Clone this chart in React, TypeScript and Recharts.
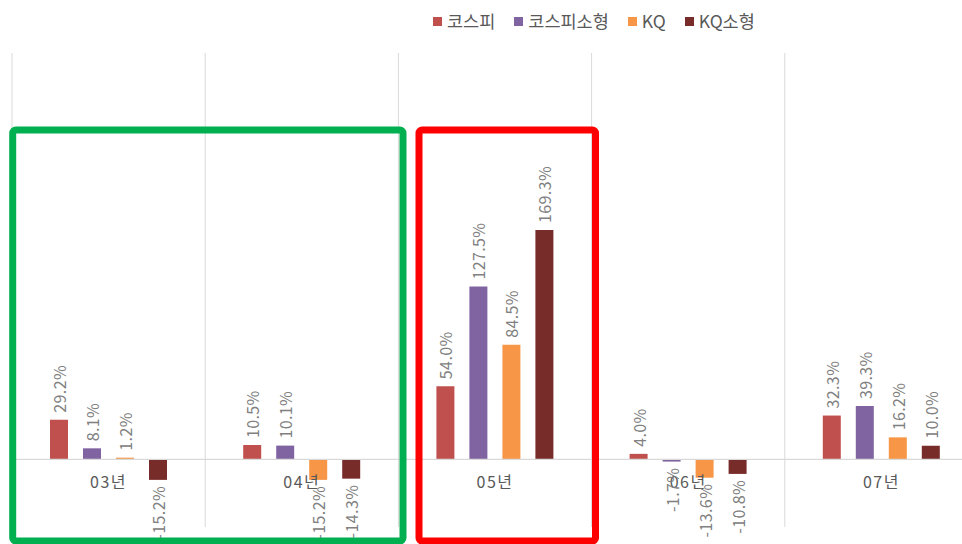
import React from 'react';
import {
  BarChart,
  Bar,
  XAxis,
  YAxis,
  CartesianGrid,
  ReferenceLine,
  ReferenceDot,
  LabelList,
} from 'recharts';

const years = ['03년', '04년', '05년', '06년', '07년'];
const kospi = [29.2, 10.5, 54.0, 4.0, 32.3];
const kospiSmall = [8.1, 10.1, 127.5, -1.7, 39.3];
const kq = [1.2, -15.2, 84.5, -13.6, 16.2];
const kqSmall = [-15.2, -14.3, 169.3, -10.8, 10.0];

const seriesNames = ['코스피', '코스피소형', 'KQ', 'KQ소형'];
const seriesKeys = ['kospi', 'kospiSmall', 'kq', 'kqSmall'];
const seriesColors = ['#C0504D', '#8064A2', '#F79646', '#772C2A'];

const data = years.map((year, i) => ({
  year,
  kospi: kospi[i],
  kospiSmall: kospiSmall[i],
  kq: kq[i],
  kqSmall: kqSmall[i],
}));

const FONT = '"Noto Sans CJK KR", "Noto Sans", sans-serif';

const renderValueLabel = (props: any) => {
  const { x, y, width, height, value } = props;
  if (value === undefined || value === null) return null;
  const cx = Number(x) + Number(width) / 2;
  const top = Math.min(Number(y), Number(y) + Number(height));
  const bottom = Math.max(Number(y), Number(y) + Number(height));
  const positive = Number(value) >= 0;
  const ay = positive ? top - 7 : bottom + 6;
  return (
    <text
      x={cx}
      y={ay}
      transform={`rotate(-90, ${cx}, ${ay})`}
      textAnchor={positive ? 'start' : 'end'}
      dominantBaseline="central"
      fill="#808080"
      fontSize={16}
      letterSpacing={0.4}
      fontFamily={FONT}
    >
      {Number(value).toFixed(1) + '%'}
    </text>
  );
};

const renderYearLabel = (year: string) => (props: any) => {
  const vb = props.viewBox || {};
  const cx = Number(vb.x) + Number(vb.width || 0) / 2;
  const cy = Number(vb.y) + Number(vb.height || 0) / 2;
  return (
    <text
      x={cx}
      y={cy + 22}
      textAnchor="middle"
      dominantBaseline="central"
      fill="#595959"
      fontSize={16}
      letterSpacing={1.5}
      fontFamily={FONT}
    >
      {year}
    </text>
  );
};

export default function App() {
  return (
    <div
      style={{
        position: 'fixed',
        top: 0,
        left: 0,
        width: 962,
        height: 544,
        overflow: 'hidden',
        background: '#ffffff',
      }}
    >
      <BarChart
        width={990}
        height={544}
        data={data}
        margin={{ top: 53, right: 12, bottom: 17, left: 12 }}
        barSize={18}
        barGap={15}
      >
        <CartesianGrid
          horizontal={false}
          vertical={true}
          stroke="#D9D9D9"
          verticalCoordinatesGenerator={({ offset }: any) =>
            [0, 1, 2, 3, 4, 5].map((i) => offset.left + (i * offset.width) / years.length)
          }
        />
        <XAxis dataKey="year" hide />
        <YAxis hide domain={[-50, 300]} type="number" />
        <ReferenceLine y={0} stroke="#D9D9D9" strokeWidth={1.3} />
        {seriesKeys.map((k, i) => (
          <Bar key={k} dataKey={k} name={seriesNames[i]} fill={seriesColors[i]} isAnimationActive={false}>
            <LabelList dataKey={k} content={renderValueLabel} />
          </Bar>
        ))}
        {years.map((y) => (
          <ReferenceDot
            key={y}
            x={y}
            y={0}
            r={0}
            fill="none"
            stroke="none"
            label={renderYearLabel(y)}
          />
        ))}
      </BarChart>
      <div
        style={{
          position: 'absolute',
          top: 10,
          left: 433,
          display: 'flex',
          alignItems: 'center',
          fontFamily: FONT,
          whiteSpace: 'nowrap',
        }}
      >
        {seriesNames.map((name, i) => (
          <div key={name} style={{ display: 'flex', alignItems: 'center', marginRight: 19 }}>
            <span
              style={{ display: 'inline-block', width: 9, height: 9, background: seriesColors[i], marginRight: 5 }}
            />
            <span style={{ fontSize: 17.5, color: '#595959', lineHeight: '22px' }}>{name}</span>
          </div>
        ))}
      </div>
      <svg
        width={962}
        height={544}
        style={{ position: 'absolute', top: 0, left: 0, pointerEvents: 'none' }}
      >
        <rect x={12.7} y={130} width={390.3} height={411} rx={3} fill="none" stroke="#00B050" strokeWidth={7} />
        <rect x={419} y={130} width={176.5} height={411} rx={3} fill="none" stroke="#FF0000" strokeWidth={7} />
      </svg>
    </div>
  );
}
